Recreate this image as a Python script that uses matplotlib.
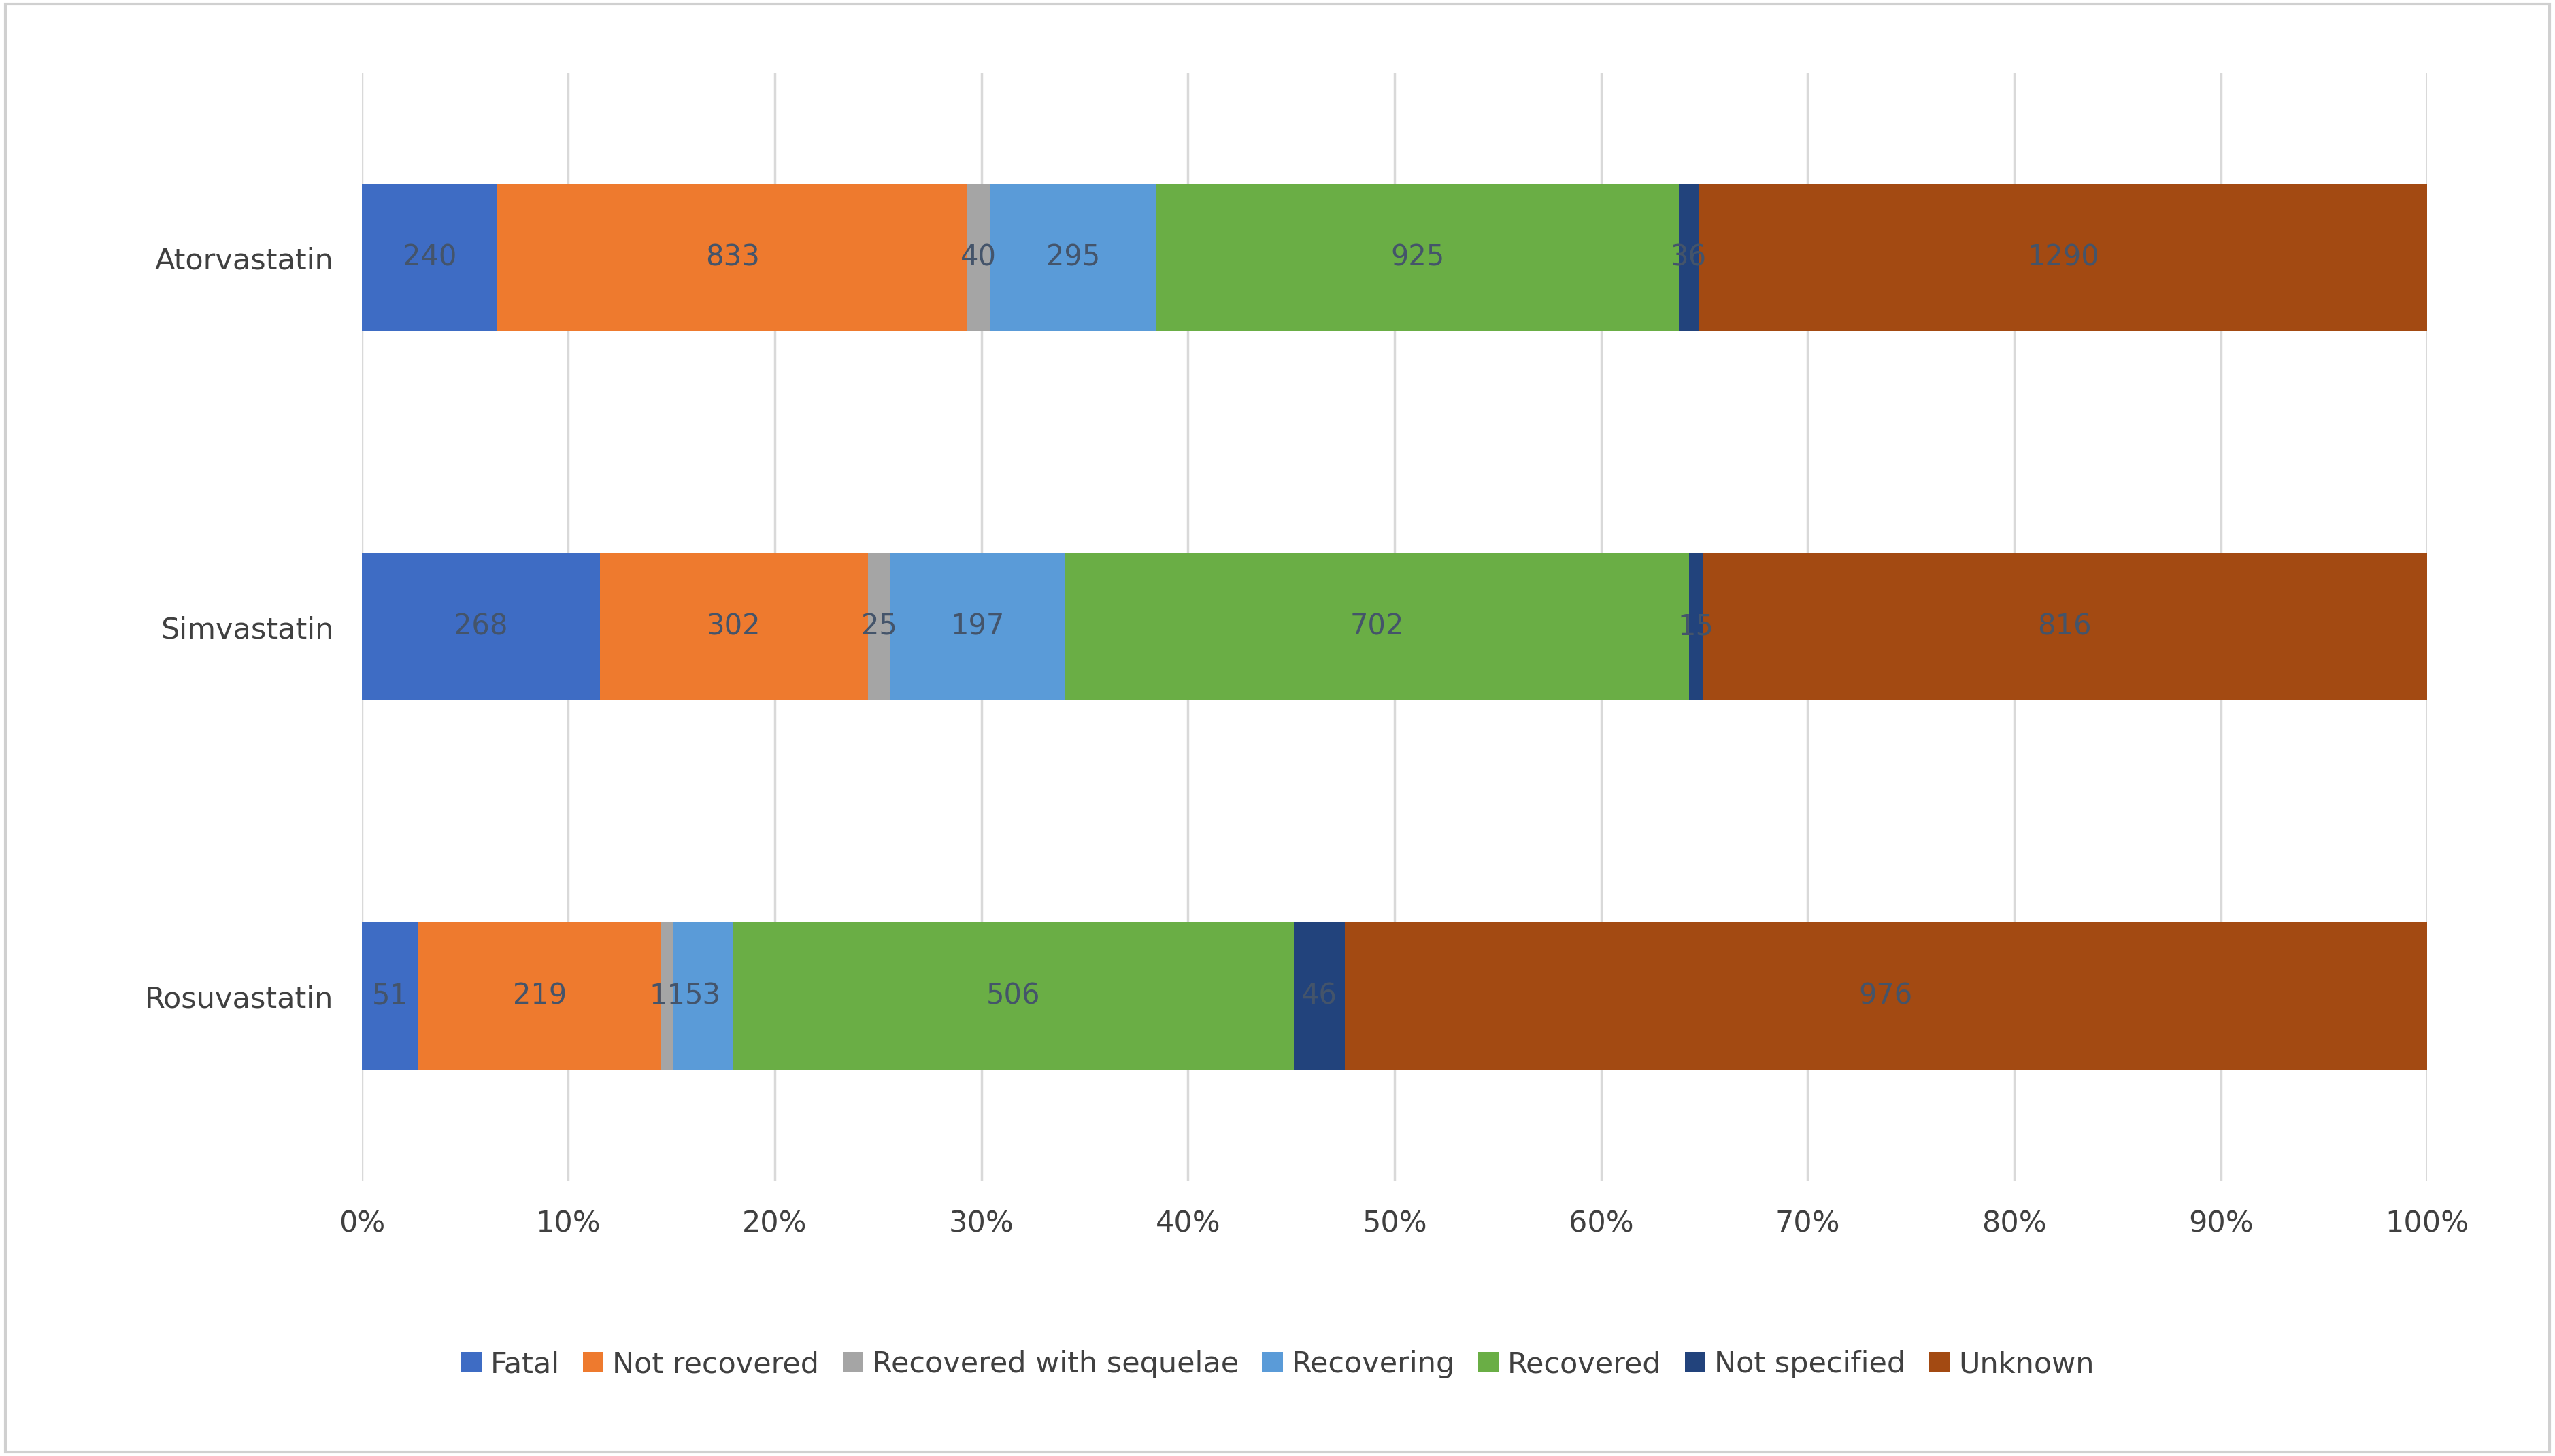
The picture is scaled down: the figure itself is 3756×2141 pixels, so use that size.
import matplotlib
matplotlib.use("Agg")
import matplotlib.pyplot as plt
import numpy as np
from matplotlib.patches import Rectangle

drugs = ["Atorvastatin", "Simvastatin", "Rosuvastatin"]
outcomes = ["Fatal", "Not recovered", "Recovered with sequelae", "Recovering",
            "Recovered", "Not specified", "Unknown"]
fatal = [240, 268, 51]
not_recovered = [833, 302, 219]
sequelae = [40, 25, 11]
recovering = [295, 197, 53]
recovered = [925, 702, 506]
not_specified = [36, 15, 46]
unknown = [1290, 816, 976]
series = [fatal, not_recovered, sequelae, recovering, recovered, not_specified, unknown]
colors = ["#3E6CC4", "#EE7A2E", "#A5A5A5", "#5A9BD8", "#6AAE45", "#22437C", "#A34A12"]

data = np.array(series, dtype=float)
totals = data.sum(axis=0)
pct = data / totals * 100

fig = plt.figure(figsize=(37.56, 21.41), dpi=100)
fig.patches.append(Rectangle((0.002, 0.003), 0.996, 0.994, transform=fig.transFigure,
                             fill=False, edgecolor="#D0D0D0", linewidth=3))
ax = fig.add_axes([0.1416, 0.189, 0.8084, 0.761])
y = np.arange(len(drugs))
left = np.zeros(len(drugs))
for i, name in enumerate(outcomes):
    ax.barh(y, pct[i], left=left, height=0.4, color=colors[i], label=name, zorder=3)
    for j in range(len(drugs)):
        ax.text(left[j] + pct[i][j] / 2, y[j], f"{int(series[i][j])}", ha="center",
                va="center", fontsize=30, color="#44546A", zorder=4)
    left += pct[i]

ax.set_xlim(0, 100)
ax.set_ylim(2.5, -0.5)
ax.set_yticks(y)
ax.set_yticklabels(drugs, fontsize=31, color="#404040")
ax.set_xticks(np.arange(0, 101, 10))
ax.set_xticklabels([f"{v}%" for v in range(0, 101, 10)], fontsize=31, color="#404040")
ax.tick_params(length=0, pad=30)
ax.grid(axis="x", color="#D9D9D9", linewidth=2.5, zorder=0)
for s in ax.spines.values():
    s.set_visible(False)
fig.legend(loc="center", bbox_to_anchor=(0.5, 0.063), ncol=7, frameon=False,
           fontsize=31, handlelength=0.7, handleheight=0.7, handletextpad=0.3,
           columnspacing=0.8, labelcolor="#404040")
fig.savefig("out.png", dpi=100)
